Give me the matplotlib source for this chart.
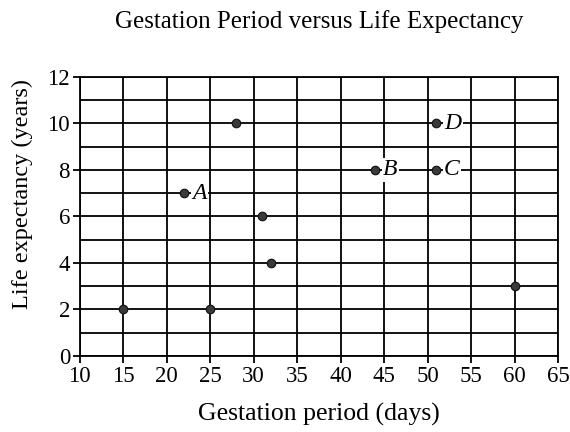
import matplotlib
matplotlib.use("Agg")
import matplotlib.pyplot as plt

# data
gestation = [15, 22, 25, 28, 31, 32, 44, 51, 51, 60]
life = [2, 7, 2, 10, 6, 4, 8, 8, 10, 3]
labels = ["", "A", "", "", "", "", "B", "C", "D", ""]

x_ticks = list(range(10, 70, 5))
y_ticks = list(range(0, 14, 2))

plt.rcParams['font.family'] = ['Liberation Serif', 'DejaVu Serif']

fig = plt.figure(figsize=(5.7, 4.32), dpi=100)
ax = fig.add_axes([0.140, 0.176, 0.839, 0.646])

ax.set_xlim(10, 65)
ax.set_ylim(0, 12)
ax.set_xticks(x_ticks)
ax.set_yticks(y_ticks)
ax.set_yticks(range(0, 13), minor=True)
ax.grid(True, which='both', color='black', linewidth=1.3)
ax.set_axisbelow(True)
for s in ax.spines.values():
    s.set_linewidth(1.3)
ax.tick_params(axis='both', which='major', length=5, width=1.3,
               labelsize=16.5, pad=2)
ax.tick_params(axis='y', which='minor', length=0)

ax.scatter(gestation, life, s=38, color='#3a3a3a', edgecolor='#111111',
           linewidth=0.8, zorder=3)

for gx, ly, lab in zip(gestation, life, labels):
    if lab:
        ax.text(gx + 0.9, ly, lab, fontsize=17, style='italic',
                va='center', ha='left', zorder=4,
                bbox=dict(facecolor='white', edgecolor='none', pad=1.0))

ax.set_title("Gestation Period versus Life Expectancy", fontsize=18, pad=35)
ax.set_xlabel("Gestation period (days)", fontsize=18.5, labelpad=12)
ax.set_ylabel("Life expectancy (years)", fontsize=17.5)
ax.yaxis.set_label_coords(-0.098, 0.58)

fig.savefig("out.png", dpi=100)
